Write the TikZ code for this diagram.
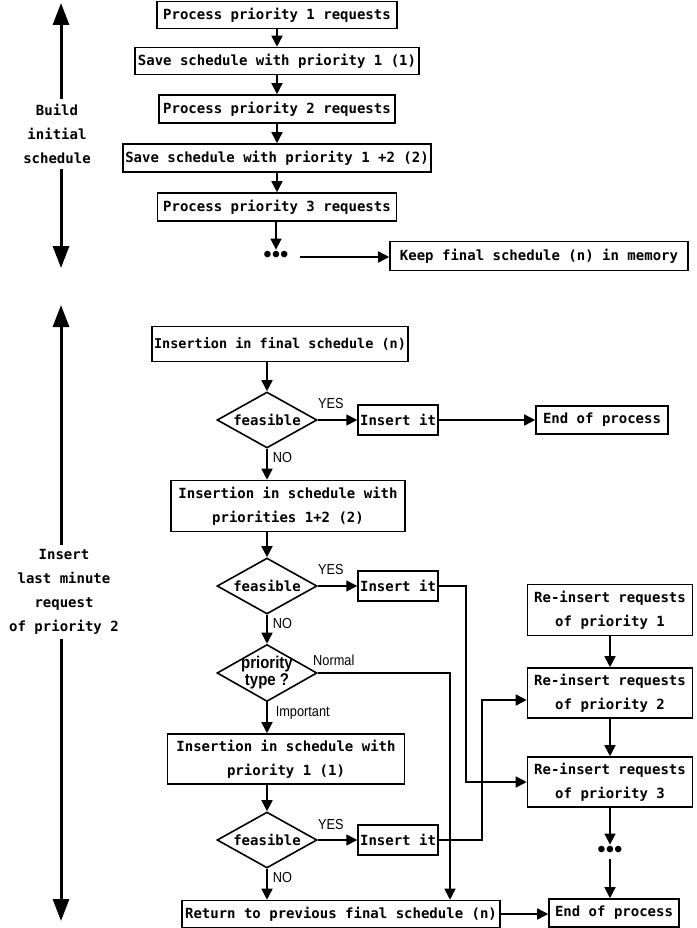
\documentclass[tikz,border=0pt]{standalone}
\usepackage{fontspec}
\setmainfont{DejaVu Sans Mono}
\newfontfamily\lblfont{Liberation Sans}[FakeStretch=0.88]
\newfontfamily\dotfont{Liberation Sans}
\usetikzlibrary{positioning,shapes,arrows.meta}

\begin{document}
\begin{tikzpicture}[
  x=1pt, y=-1pt,
  line width=1.6pt,
  mybox/.style={draw,rectangle,align=center,inner xsep=2pt,inner ysep=1pt,
    font=\fontsize{14}{24}\selectfont\bfseries},
  mydia/.style={draw,diamond,aspect=1.8,inner sep=0pt,minimum width=100pt,
    minimum height=56pt,font=\fontsize{14}{16}\selectfont\bfseries},
  dtext/.style={align=center,inner sep=0pt,font=\lblfont\fontsize{17}{17}\selectfont\bfseries},
  dots/.style={inner sep=1pt,font=\dotfont\fontsize{24}{24}\selectfont},
  lbl/.style={inner sep=0pt,font=\lblfont\fontsize{14.5}{16}\selectfont},
  sidelbl/.style={align=center,inner sep=4pt,font=\fontsize{14}{24}\selectfont\bfseries},
  arr/.style={-{Triangle[length=11pt,width=11pt]}},
  bigarr/.style={line width=3pt,-{Triangle[length=22pt,width=16pt]}}
]
\useasboundingbox (0,0) rectangle (696,928);

\node[mybox,minimum width=240pt,minimum height=27pt] (p1) at (277,15) {Process priority 1 requests};
\node[mybox,minimum width=284pt,minimum height=27pt] (s1) at (277,61) {Save schedule with priority 1 (1)};
\node[mybox,minimum width=236pt,minimum height=28pt] (p2) at (277,109) {Process priority 2 requests};
\node[mybox,minimum width=307pt,minimum height=28pt] (s2) at (277,158) {Save schedule with priority 1 +2 (2)};
\node[mybox,minimum width=239pt,minimum height=28pt] (p3) at (277,207) {Process priority 3 requests};
\node[dots] (dt1) at (276,257) {\textbullet\textbullet\textbullet};
\node[mybox,minimum width=298pt,minimum height=29pt] (keep) at (539,256) {Keep final schedule (n) in memory};

\path (p1) edge[arr] (s1)
(s1) edge[arr] (p2)
(p2) edge[arr] (s2)
(s2) edge[arr] (p3);
\draw[arr] (p3.south -| dt1) -- (dt1.north);
\draw[arr,shorten <=10pt] (dt1) -- (dt1 -| keep.west);

\node[sidelbl] (lbl1) at (57,134) {Build\\initial\\schedule};
\coordinate (t1) at (61,3);
\coordinate (t2) at (61,268);
\draw[bigarr] (lbl1.north -| t1) -- (t1);
\draw[bigarr] (lbl1.south -| t2) -- (t2);

\node[mybox,minimum width=250pt,minimum height=35pt,font=\fontsize{13.5}{24}\selectfont\bfseries] (b1) at (280,344) {Insertion in final schedule (n)};
\node[mydia] (d1) at (267,420) {feasible};
\node[mybox,minimum width=78pt,minimum height=30pt] (i1) at (398,420) {Insert it};
\node[mybox,minimum width=132pt,minimum height=28pt] (e1) at (602,420) {End of process};
\node[mybox,minimum width=234pt,minimum height=51pt] (b2) at (288,506) {Insertion in schedule with\\priorities 1+2 (2)};
\node[mydia] (d2) at (267,586) {feasible};
\node[mybox,minimum width=78pt,minimum height=30pt] (i2) at (398,586) {Insert it};
\node[mydia,minimum height=57pt,label={[dtext]center:{priority\\type ?}}] (d3) at (267,673) {};
\node[mybox,minimum width=237pt,minimum height=50pt] (b3) at (286,759) {Insertion in schedule with\\priority 1 (1)};
\node[mydia] (d4) at (267,840) {feasible};
\node[mybox,minimum width=78pt,minimum height=30pt] (i3) at (398,840) {Insert it};
\node[mybox,minimum width=318pt,minimum height=27pt] (ret) at (341,914) {Return to previous final schedule (n)};

\node[mybox,minimum width=165pt,minimum height=51pt] (r1) at (610,610) {Re-insert requests\\of priority 1};
\node[mybox,minimum width=165pt,minimum height=50pt] (r2) at (610,693) {Re-insert requests\\of priority 2};
\node[mybox,minimum width=165pt,minimum height=50pt] (r3) at (610,782) {Re-insert requests\\of priority 3};
\node[dots] (dt2) at (610,852) {\textbullet\textbullet\textbullet};
\node[mybox,minimum width=130pt,minimum height=28pt] (e2) at (614,913) {End of process};

\node[lbl] (y1) at ([xshift=13pt,yshift=16pt]d1.east) {YES};
\node[lbl] (y2) at ([xshift=13pt,yshift=16pt]d2.east) {YES};
\node[lbl] (y4) at ([xshift=13pt,yshift=16pt]d4.east) {YES};
\node[lbl,anchor=north west] (n1) at ([xshift=5pt,yshift=-3pt]d1.south) {NO};
\node[lbl,anchor=north west] (n2) at ([xshift=5pt,yshift=-3pt]d2.south) {NO};
\node[lbl,anchor=north west] (n4) at ([xshift=5pt,yshift=-3pt]d4.south) {NO};
\node[lbl] (nrm) at ([xshift=16pt,yshift=13pt]d3.east) {Normal};
\node[lbl,anchor=west] (imp) at ([xshift=8pt,yshift=-11pt]d3.south) {Important};

\draw[arr] (b1.south -| d1.north) -- (d1.north);
\path (d1) edge[arr] (i1)
(i1) edge[arr] (e1);
\draw[arr] (d1.south) -- (d1.south |- b2.north);
\draw[arr] (b2.south -| d2.north) -- (d2.north);
\path (d2) edge[arr] (i2)
(d2) edge[arr] (d3);
\draw[arr] (d3.south) -- (d3.south |- b3.north);
\draw[arr] (b3.south -| d4.north) -- (d4.north);
\path (d4) edge[arr] (i3);
\draw[arr] (d4.south) -- (d4.south |- ret.north);
\draw[arr] (ret.east) -- (ret.east -| e2.west);

\draw[arr] (d3.east) -| ([xshift=109pt]ret.north);
\draw[arr] (i2.east) -- ++(27,0) |- (r3.west);
\draw[arr] (i3.east) -- ++(43,0) |- ([yshift=-7pt]r2.west);

\path (r1) edge[arr] (r2)
(r2) edge[arr] (r3);
\draw[arr] (r3.south -| dt2) -- (dt2.north);
\draw[arr] (dt2) -- (dt2 |- e2.north);

\node[sidelbl] (lbl2) at (64,592) {Insert\\last minute\\request\\of priority 2};
\coordinate (t3) at (61,305);
\coordinate (t4) at (61,921);
\draw[bigarr] (lbl2.north -| t3) -- (t3);
\draw[bigarr] (lbl2.south -| t4) -- (t4);

\end{tikzpicture}
\end{document}
